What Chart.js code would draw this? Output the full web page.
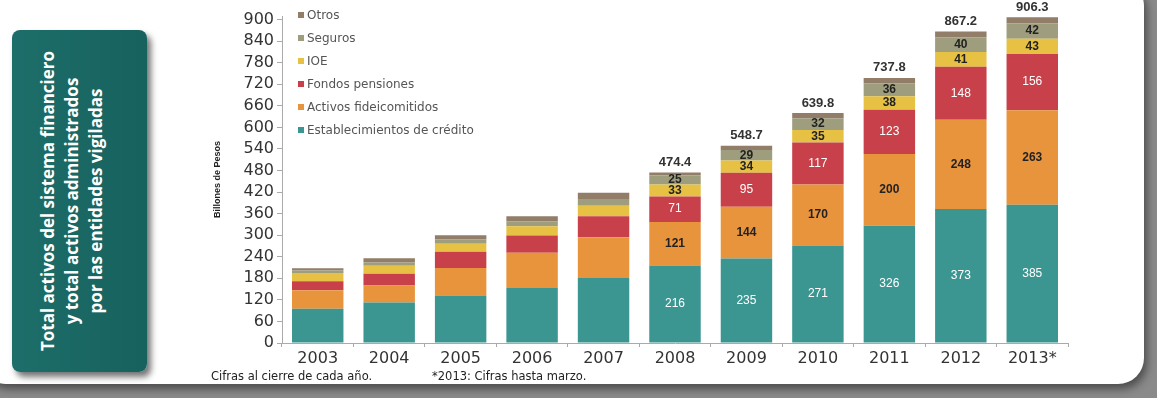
<!DOCTYPE html>
<html>
<head>
<meta charset="utf-8">
<script src="https://cdn.jsdelivr.net/npm/chart.js@4"></script>
<style>
  html, body { margin: 0; padding: 0; background: #8a8a8a; }
  #card {
    position: absolute; left: -20px; top: -20px; width: 1164px; height: 404px;
    background: #fff; border-radius: 26px;
    box-shadow: 3px 5px 9px rgba(0,0,0,0.45);
  }
  #panel {
    position: absolute; left: 12px; top: 30px; width: 135px; height: 342px;
    background: linear-gradient(90deg, #1d6e6a, #17615e);
    border-radius: 8px;
    box-shadow: 4px 5px 6px rgba(0,0,0,0.55);
  }
  #panelText {
    position: absolute; left: 72px; top: 201px; width: 340px;
    transform: translate(-50%, -50%) rotate(-90deg);
    color: #fff; font: 700 17px "Open Sans", sans-serif; line-height: 24px;
    text-align: center; white-space: nowrap;
  }
  #chartBox { position: absolute; left: 200px; top: 0; width: 880px; height: 370px; }
  #legend { position: absolute; left: 298px; top: 6px; font: 12px "DejaVu Sans", sans-serif; color: #555; }
  #legend div { height: 23px; line-height: 18px; }
  #legend span { display: inline-block; width: 6px; height: 6px; margin-right: 3px; vertical-align: 1px; }
  .note { position: absolute; top: 369px; font: 11.5px "DejaVu Sans", sans-serif; color: #222; }
</style>
</head>
<body>
<div id="card"></div>
<div id="panel"></div>
<div id="panelText">Total activos del sistema financiero<br>y total activos administrados<br>por las entidades vigiladas</div>
<div id="chartBox"><canvas id="assetsChart"></canvas></div>
<div id="legend"></div>
<div class="note" style="left:211px">Cifras al cierre de cada año.</div>
<div class="note" style="left:432px">*2013: Cifras hasta marzo.</div>
<script>
var years = ['2003', '2004', '2005', '2006', '2007', '2008', '2009', '2010', '2011', '2012', '2013*'];
var establecimientos = [95, 113, 132, 153, 181, 216, 235, 271, 326, 373, 385];
var fideicomitidos = [52, 47, 77, 98, 113, 121, 144, 170, 200, 248, 263];
var pensiones = [25, 33, 45, 48, 59, 71, 95, 117, 123, 148, 156];
var ioe = [23, 22, 22, 26, 29, 33, 34, 35, 38, 41, 43];
var seguros = [7, 10, 12, 14, 19, 25, 29, 32, 36, 40, 42];
var otros = [6, 11, 12, 14, 17, 8.4, 11.7, 14.8, 14.8, 17.2, 17.3];
var totals = [null, null, null, null, null, 474.4, 548.7, 639.8, 737.8, 867.2, 906.3];
var yTicks = [0, 60, 120, 180, 240, 300, 360, 420, 480, 540, 600, 660, 720, 780, 840, 900];

var series = [
    { label: 'Establecimientos de crédito', data: establecimientos, color: '#3b9692', text: '#fff' },
    { label: 'Activos fideicomitidos', data: fideicomitidos, color: '#e8943d', text: '#222' },
    { label: 'Fondos pensiones', data: pensiones, color: '#c8404a', text: '#fff' },
    { label: 'IOE', data: ioe, color: '#e6c143', text: '#222' },
    { label: 'Seguros', data: seguros, color: '#9e9e7e', text: '#222' },
    { label: 'Otros', data: otros, color: '#927d68', text: null }
];

// legend, top item first like the original
var legend = document.getElementById('legend');
series.slice().reverse().forEach(function (s) {
    var row = document.createElement('div');
    row.innerHTML = '<span style="background:' + s.color + '"></span>' + s.label;
    legend.appendChild(row);
});

var labelPlugin = {
    id: 'segmentLabels',
    afterDatasetsDraw: function (chart) {
        var ctx = chart.ctx;
        ctx.save();
        ctx.textAlign = 'center';
        ctx.textBaseline = 'middle';
        series.forEach(function (s, i) {
            if (!s.text) return;
            var meta = chart.getDatasetMeta(i);
            meta.data.forEach(function (bar, j) {
                if (totals[j] === null) return;
                ctx.fillStyle = s.text;
                ctx.font = (s.text === '#fff' ? '12px' : 'bold 12px') + ' "Liberation Sans", sans-serif';
                ctx.fillText(Math.round(s.data[j]), bar.x, (bar.y + bar.base) / 2);
            });
        });
        var top = chart.getDatasetMeta(series.length - 1);
        ctx.fillStyle = '#333';
        ctx.font = 'bold 13px "Liberation Sans", sans-serif';
        top.data.forEach(function (bar, j) {
            if (totals[j] === null) return;
            ctx.fillText(totals[j].toFixed(1), bar.x, bar.y - 10);
        });
        ctx.restore();
    }
};

var ctx = document.getElementById('assetsChart').getContext('2d');
var assetsChart = new Chart(ctx, {
    type: 'bar',
    data: {
        labels: years,
        datasets: series.map(function (s) {
            return { label: s.label, data: s.data, backgroundColor: s.color, borderWidth: 0 };
        })
    },
    options: {
        responsive: true,
        maintainAspectRatio: false,
        animation: false,
        layout: { padding: { top: 16, right: 12, bottom: 0, left: 0 } },
        plugins: { legend: { display: false }, tooltip: { enabled: false } },
        datasets: { bar: { categoryPercentage: 1, barPercentage: 0.72 } },
        scales: {
            x: {
                stacked: true,
                grid: { drawOnChartArea: false, offset: true, tickLength: 4, color: '#aaa' },
                border: { color: '#aaa' },
                ticks: { color: '#333', font: { family: 'DejaVu Sans', size: 16 }, padding: 2 },
                afterFit: function (scale) { scale.height = 27; }
            },
            y: {
                stacked: true,
                min: 0,
                max: 910,
                afterBuildTicks: function (scale) {
                    scale.ticks = yTicks.map(function (v) { return { value: v }; });
                },
                grid: { drawOnChartArea: false, tickLength: 5, color: '#aaa' },
                border: { color: '#aaa' },
                ticks: { autoSkip: false, color: '#333', font: { family: 'DejaVu Sans', size: 16 }, padding: 3 },
                title: {
                    display: true,
                    text: 'Billones de Pesos',
                    color: '#222',
                    font: { family: 'Liberation Sans', size: 9, weight: 'bold' },
                    padding: { top: 12 }
                },
                afterFit: function (scale) { scale.width = 82; }
            }
        }
    },
    plugins: [labelPlugin]
});
</script>
</body>
</html>
